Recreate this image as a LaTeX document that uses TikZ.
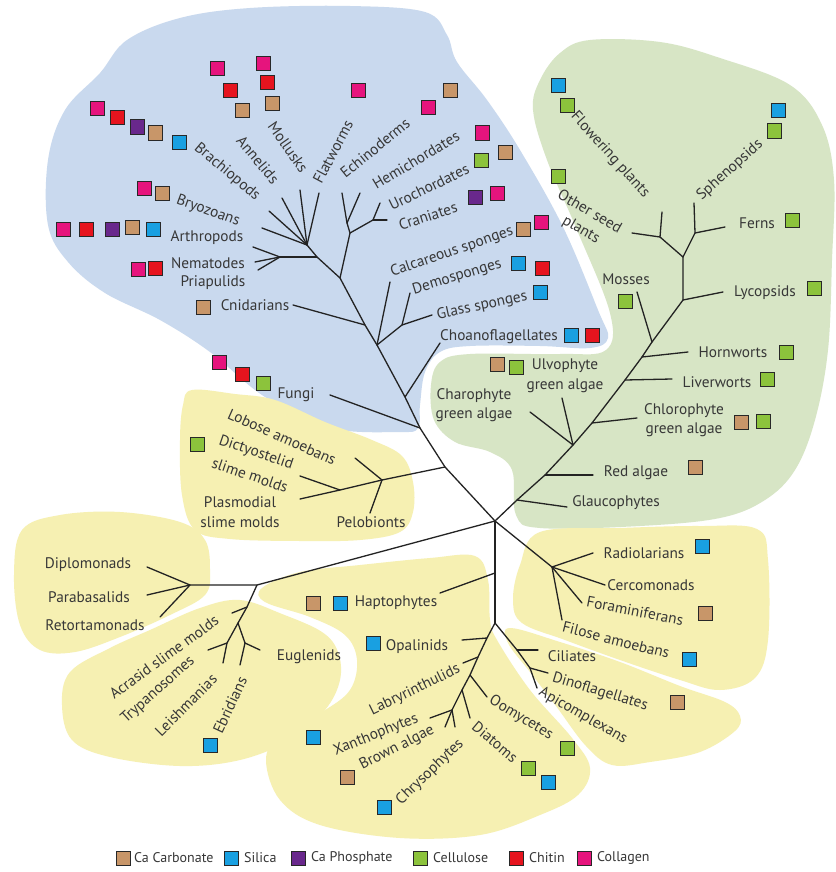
\documentclass[tikz,border=0pt]{standalone}
\usepackage{fontspec}
\setmainfont{PT Sans}
\usetikzlibrary{calc}
\definecolor{bluebg}{RGB}{201,217,238}
\definecolor{greenbg}{RGB}{215,229,197}
\definecolor{yellowbg}{RGB}{246,240,178}
\definecolor{car}{RGB}{200,150,105}
\definecolor{sil}{RGB}{25,160,225}
\definecolor{pho}{RGB}{105,40,140}
\definecolor{cel}{RGB}{140,195,60}
\definecolor{chi}{RGB}{230,20,30}
\definecolor{col}{RGB}{230,20,125}
\definecolor{treecol}{RGB}{35,35,35}
\definecolor{txt}{RGB}{55,55,55}
\newcommand\msq[2]{\draw[sqbox,fill=#2] (#1) ++(-7,-7) rectangle ++(14,14);}
\begin{document}
\begin{tikzpicture}[x=1pt,y=-1pt,
  lab/.style={font=\fontsize{15.3}{19.5}\selectfont, text=txt, inner sep=0pt},
  leg/.style={font=\fontsize{14}{16}\selectfont, text=txt, inner sep=0pt},
  sqbox/.style={draw={rgb,255:red,40;green,40;blue,40}, line width=1pt},
  br/.style={draw=treecol, line width=1.3pt, line cap=round, line join=round}]
\useasboundingbox (0,0) rectangle (835,872);
\fill[white] (0,0) rectangle (835,872);
% ---------- background blobs ----------
\fill[bluebg] plot[smooth cycle, tension=0.6] coordinates {(100,73) (127,40) (180,18) (250,8) (350,6) (425,12) (447,35) (457,62) (487,100) (520,150) (563,227) (598,310) (608,338) (590,348) (540,346) (470,346) (440,352) (425,372) (420,405) (418,428) (400,432) (330,428) (265,397) (210,352) (160,320) (105,293) (68,262) (48,225) (48,160) (65,110)};
\fill[greenbg] plot[smooth cycle, tension=0.6] coordinates {(540,80) (560,53) (590,40) (660,42) (720,58) (790,85) (822,125) (834,180) (832,260) (828,350) (815,420) (795,470) (765,500) (720,518) (640,526) (540,528) (516,515) (512,470) (490,452) (455,442) (434,420) (431,385) (440,362) (470,354) (560,354) (606,350) (610,313) (577,230) (547,160) (533,110)};
\fill[yellowbg] plot[smooth cycle, tension=0.6] coordinates {(192,390) (235,394) (275,400) (325,422) (372,440) (402,456) (413,482) (413,512) (400,532) (360,540) (300,541) (230,539) (195,530) (182,495) (180,440) (183,405)};
\fill[yellowbg] plot[smooth cycle, tension=0.6] coordinates {(22,530) (60,515) (120,512) (180,522) (205,540) (210,570) (205,595) (170,615) (120,637) (75,652) (40,650) (20,625) (14,575)};
\fill[yellowbg] plot[smooth cycle, tension=0.6] coordinates {(70,672) (110,648) (150,630) (200,608) (240,600) (282,614) (322,632) (338,652) (340,680) (325,710) (290,740) (240,760) (180,766) (110,757) (72,740) (62,705)};
\fill[yellowbg] plot[smooth cycle, tension=0.6] coordinates {(262,588) (300,572) (360,565) (430,558) (475,556) (488,580) (490,620) (497,640) (530,690) (572,738) (590,768) (578,795) (540,815) (480,835) (400,838) (320,825) (280,800) (266,760) (280,735) (322,712) (350,690) (357,660) (345,635) (310,617) (265,602)};
\fill[yellowbg] plot[smooth cycle, tension=0.6] coordinates {(540,532) (620,528) (700,526) (757,529) (768,560) (768,640) (755,678) (720,690) (680,680) (620,660) (565,640) (522,623) (513,600) (520,565)};
\fill[yellowbg] plot[smooth cycle, tension=0.6] coordinates {(510,628) (560,642) (620,662) (680,686) (725,702) (740,716) (735,731) (700,752) (650,762) (612,765) (586,746) (556,706) (530,672) (508,643)};
% ---------- tree coordinates ----------
\coordinate (R) at (495,521);
% animals
\coordinate (B0) at (307,245); \coordinate (T1) at (317,257);
\coordinate (brz) at (262,228); \coordinate (bra) at (269,211); \coordinate (ann) at (282,198); \coordinate (mol) at (300,190); \coordinate (fla) at (319,193);
\coordinate (EJ) at (280,257); \coordinate (art) at (253,247); \coordinate (nem) at (255,262); \coordinate (pri) at (258,270);
\coordinate (DJ0) at (340,278); \coordinate (DJ1) at (350,233); \coordinate (DJ2) at (347,223);
\coordinate (ech) at (342,193); \coordinate (hem) at (360,193); \coordinate (CJ) at (373,220); \coordinate (uro) at (380,203); \coordinate (cra) at (387,220);
\coordinate (CN) at (365,325); \coordinate (cni) at (293,305);
\coordinate (SP) at (377,345); \coordinate (cal) at (390,282); \coordinate (DS) at (402,325); \coordinate (dem) at (410,293); \coordinate (gla) at (432,315);
\coordinate (CH) at (405,397); \coordinate (cho) at (440,343);
\coordinate (FU) at (420,428); \coordinate (fun) at (330,395);
\coordinate (SL) at (445,467); \coordinate (J1) at (382,480); \coordinate (lob) at (355,458); \coordinate (pel) at (370,513); \coordinate (J2) at (340,490); \coordinate (dic) at (300,476); \coordinate (pla) at (300,499);
% plants
\coordinate (G1) at (517,500); \coordinate (glc) at (567,507);
\coordinate (G2) at (545,475); \coordinate (red) at (593,475);
\coordinate (G3) at (573,445); \coordinate (cha) at (530,412); \coordinate (ulv) at (562,398);
\coordinate (G4) at (592,423); \coordinate (chl) at (637,418);
\coordinate (G5) at (625,380); \coordinate (liv) at (672,379);
\coordinate (G6) at (642,357); \coordinate (hor) at (688,352);
\coordinate (G7) at (652,342); \coordinate (mos) at (637,292);
\coordinate (G8) at (683,300); \coordinate (lyc) at (723,292);
\coordinate (G9) at (683,257); \coordinate (G10) at (660,237); \coordinate (osp) at (632,233); \coordinate (flo) at (662,212);
\coordinate (G11) at (695,233); \coordinate (sph) at (694,203); \coordinate (fer) at (725,227);
% excavates
\coordinate (E0) at (257,585); \coordinate (DP) at (190,585); \coordinate (dip) at (147,567); \coordinate (par) at (147,595); \coordinate (ret) at (160,617);
\coordinate (E2) at (247,607); \coordinate (acr) at (232,613); \coordinate (E3) at (238,623);
\coordinate (E4) at (227,643); \coordinate (try) at (208,650); \coordinate (lei) at (223,663);
\coordinate (E5) at (245,643); \coordinate (eug) at (260,650); \coordinate (ebr) at (240,665);
% SAR
\coordinate (H) at (495,573); \coordinate (hap) at (440,593); \coordinate (ST0) at (495,623);
\coordinate (S1) at (487,638); \coordinate (opa) at (462,640);
\coordinate (S2) at (478,657); \coordinate (lab) at (463,663);
\coordinate (S3) at (470,675); \coordinate (oom) at (487,697);
\coordinate (S4) at (462,690); \coordinate (dia) at (470,718);
\coordinate (S5) at (452,710); \coordinate (xan) at (430,718); \coordinate (bro) at (445,727); \coordinate (chr) at (455,727);
\coordinate (A1) at (517,650); \coordinate (cil) at (538,650);
\coordinate (A2) at (530,668); \coordinate (din) at (548,673); \coordinate (api) at (537,688);
\coordinate (RH) at (552,567); \coordinate (rad) at (593,553); \coordinate (cer) at (605,585); \coordinate (for) at (582,603); \coordinate (fil) at (562,620);
% ---------- tree branches ----------
\draw[br] (R) -- (SL) -- (FU) -- (CH) -- (SP) -- (CN) -- (DJ0) -- (T1) -- (B0);
\foreach \e in {brz,bra,ann,mol,fla} \draw[br] (B0) -- (\e);
\draw[br] (T1) -- (EJ); \foreach \e in {art,nem,pri} \draw[br] (EJ) -- (\e);
\draw[br] (DJ0) -- (DJ1) -- (DJ2) -- (ech); \draw[br] (DJ2) -- (hem);
\draw[br] (DJ1) -- (CJ) -- (uro); \draw[br] (CJ) -- (cra);
\draw[br] (CN) -- (cni);
\draw[br] (SP) -- (cal); \draw[br] (SP) -- (DS) -- (dem); \draw[br] (DS) -- (gla);
\draw[br] (CH) -- (cho); \draw[br] (FU) -- (fun);
\draw[br] (SL) -- (J1) -- (lob); \draw[br] (J1) -- (pel); \draw[br] (J1) -- (J2) -- (dic); \draw[br] (J2) -- (pla);
\draw[br] (R) -- (G1) -- (G2) -- (G3) -- (G4) -- (G5) -- (G6) -- (G7) -- (G8) -- (G9);
\draw[br] (G1) -- (glc); \draw[br] (G2) -- (red); \draw[br] (G3) -- (cha); \draw[br] (G3) -- (ulv);
\draw[br] (G4) -- (chl); \draw[br] (G5) -- (liv); \draw[br] (G6) -- (hor); \draw[br] (G7) -- (mos); \draw[br] (G8) -- (lyc);
\draw[br] (G9) -- (G10) -- (osp); \draw[br] (G10) -- (flo); \draw[br] (G9) -- (G11) -- (sph); \draw[br] (G11) -- (fer);
\draw[br] (R) -- (E0) -- (DP) -- (dip); \draw[br] (DP) -- (par); \draw[br] (DP) -- (ret);
\draw[br] (E0) -- (E2) -- (acr); \draw[br] (E2) -- (E3) -- (E4) -- (try); \draw[br] (E4) -- (lei); \draw[br] (E3) -- (E5) -- (eug); \draw[br] (E5) -- (ebr);
\draw[br] (R) -- (H) -- (ST0); \draw[br] (H) -- (hap);
\draw[br] (ST0) -- (S1) -- (S2) -- (S3) -- (S4) -- (S5) -- (xan); \draw[br] (S5) -- (bro); \draw[br] (S5) -- (chr);
\draw[br] (S1) -- (opa); \draw[br] (S2) -- (lab); \draw[br] (S3) -- (oom); \draw[br] (S4) -- (dia);
\draw[br] (ST0) -- (A1) -- (A2) -- (api); \draw[br] (A1) -- (cil); \draw[br] (A2) -- (din);
\draw[br] (R) -- (RH) -- (rad); \draw[br] (RH) -- (cer); \draw[br] (RH) -- (for); \draw[br] (RH) -- (fil);
% ---------- labels ----------
\node[lab, rotate=-40] (Lbra) at (227,172) {Brachiopods};
\node[lab, rotate=-50] (Lann) at (258,160) {Annelids};
\node[lab, rotate=-55] (Lmol) at (288,147) {Mollusks};
\node[lab, rotate=62] (Lfla) at (333,152) {Flatworms};
\node[lab, rotate=39] (Lech) at (375,148) {Echinoderms};
\node[lab, rotate=31] (Lhem) at (416,160) {Hemichordates};
\node[lab, rotate=26] (Luro) at (429,187) {Urochordates};
\node[lab, rotate=18] (Lcra) at (428,216) {Craniates};
\node[lab, rotate=19] (Lcal) at (452,252) {Calcareous sponges};
\node[lab, rotate=17] (Ldem) at (457,277) {Demosponges};
\node[lab, rotate=12] (Lgla) at (482,306) {Glass sponges};
\node[lab] (Lcho) at (499,337) {Choanoflagellates};
\node[lab] (Lfun) at (296,395) {Fungi};
\node[lab] (Lcni) at (255,305) {Cnidarians};
\node[lab] (Lnem) at (208,263) {Nematodes};
\node[lab] (Lpri) at (213,283) {Priapulids};
\node[lab] (Lart) at (207,238) {Arthropods};
\node[lab, rotate=-20] (Lbrz) at (208,211) {Bryozoans};
\node[lab, rotate=-48] (Lflo) at (610,155) {Flowering plants};
\node[lab, rotate=-30] (Losp) at (590,211) {Other seed};
\node[lab, rotate=-30] (Losp2) at (581,230) {plants};
\node[lab, rotate=42] (Lsph) at (730,170) {Sphenopsids};
\node[lab] (Lfer) at (757,223) {Ferns};
\node[lab] (Llyc) at (765,293) {Lycopsids};
\node[lab] (Lmos) at (626,279) {Mosses};
\node[lab] (Lhor) at (733,352) {Hornworts};
\node[lab] (Lliv) at (717,382) {Liverworts};
\node[lab, align=center] (Lchl) at (684,420) {Chlorophyte\\green algae};
\node[lab] (Lred) at (636,473) {Red algae};
\node[lab] (Lglc) at (616,503) {Glaucophytes};
\node[lab, align=center] (Lulv) at (565,376) {Ulvophyte\\green algae};
\node[lab, align=center] (Lcha) at (474,405) {Charophyte\\green algae};
\node[lab, rotate=-24] (Llob) at (282,437) {Lobose amoebans};
\node[lab, rotate=-19] (Ldic) at (256,453) {Dictyostelid};
\node[lab, rotate=-19] (Ldic2) at (250,475) {slime molds};
\node[lab, align=center] (Lpla) at (240,512) {Plasmodial\\slime molds};
\node[lab] (Lpel) at (371,522) {Pelobionts};
\node[lab] (Ldip) at (88,565) {Diplomonads};
\node[lab] (Lpar) at (89,597) {Parabasalids};
\node[lab] (Lret) at (95,625) {Retortamonads};
\node[lab, rotate=36] (Lacr) at (164,657) {Acrasid slime molds};
\node[lab, rotate=42] (Ltry) at (158,690) {Trypanosomes};
\node[lab, rotate=45] (Llei) at (186,705) {Leishmanias};
\node[lab, rotate=65] (Lebr) at (230,705) {Ebridians};
\node[lab] (Leug) at (309,657) {Euglenids};
\node[lab] (Lhap) at (396,603) {Haptophytes};
\node[lab] (Lopa) at (417,647) {Opalinids};
\node[lab, rotate=26] (Llab) at (415,690) {Labryrinthulids};
\node[lab, rotate=22] (Lxan) at (376,735) {Xanthophytes};
\node[lab, rotate=27] (Lbro) at (397,748) {Brown algae};
\node[lab, rotate=44] (Lchr) at (430,772) {Chrysophytes};
\node[lab, rotate=-40] (Ldia) at (495,742) {Diatoms};
\node[lab, rotate=-31] (Loom) at (521,718) {Oomycetes};
\node[lab] (Lrad) at (644,553) {Radiolarians};
\node[lab] (Lcer) at (651,585) {Cercomonads};
\node[lab, rotate=-11] (Lfor) at (635,611) {Foraminiferans};
\node[lab, rotate=-14] (Lfil) at (616,640) {Filose amoebans};
\node[lab] (Lcil) at (572,656) {Ciliates};
\node[lab, rotate=-17] (Ldin) at (600,692) {Dinoflagellates};
\node[lab, rotate=-30] (Lapi) at (583,716) {Apicomplexans};
% ---------- skeleton squares ----------
\msq{97,109}{col} \msq{117,118}{chi} \msq{137,127}{pho} \msq{155,133}{car} \msq{179,142}{sil}
\msq{217,69}{col} \msq{230,91}{chi} \msq{242,111}{car}
\msq{263,64}{col} \msq{267,83}{chi} \msq{272,104}{car}
\msq{358,91}{col}
\msq{428,108}{col} \msq{450,91}{car}
\msq{482,133}{col} \msq{505,152}{car}
\msq{481,160}{cel}
\msq{475,197}{pho} \msq{497,193}{col}
\msq{523,229}{car} \msq{541,222}{col}
\msq{518,263}{sil} \msq{542,268}{chi}
\msq{540,292}{sil}
\msq{571,335}{sil} \msq{592,335}{chi}
\msq{219,362}{col} \msq{242,374}{chi} \msq{263,383}{cel}
\msq{203,307}{car}
\msq{138,269}{col} \msq{155,268}{chi}
\msq{63,229}{col} \msq{86,229}{chi} \msq{112,229}{pho} \msq{132,227}{car} \msq{153,229}{sil}
\msq{144,188}{col} \msq{162,193}{car}
\msq{558,86}{sil} \msq{567,106}{cel}
\msq{558,176}{cel}
\msq{778,111}{sil} \msq{774,131}{cel}
\msq{792,220}{cel}
\msq{814,288}{cel}
\msq{625,301}{cel}
\msq{786,352}{cel}
\msq{767,379}{cel}
\msq{741,422}{car} \msq{763,421}{cel}
\msq{695,467}{car}
\msq{497,364}{car} \msq{516,367}{cel}
\msq{197,444}{cel}
\msq{210,745}{sil}
\msq{313,603}{car} \msq{340,603}{sil}
\msq{373,643}{sil}
\msq{313,737}{sil}
\msq{347,777}{car}
\msq{384,807}{sil}
\msq{528,768}{cel} \msq{548,782}{sil}
\msq{567,748}{cel}
\msq{702,546}{sil}
\msq{705,613}{car}
\msq{689,659}{sil}
\msq{677,702}{car}
% ---------- legend ----------
\msq{123,858}{car} \node[leg, anchor=west] (leg1) at (134,858) {Ca Carbonate};
\msq{231,858}{sil} \node[leg, anchor=west] (leg2) at (244,858) {Silica};
\msq{298,858}{pho} \node[leg, anchor=west] (leg3) at (311,858) {Ca Phosphate};
\msq{420,858}{cel} \node[leg, anchor=west] (leg4) at (433,858) {Cellulose};
\msq{516,858}{chi} \node[leg, anchor=west] (leg5) at (529,858) {Chitin};
\msq{584,858}{col} \node[leg, anchor=west] (leg6) at (597,858) {Collagen};
\end{tikzpicture}
\end{document}
